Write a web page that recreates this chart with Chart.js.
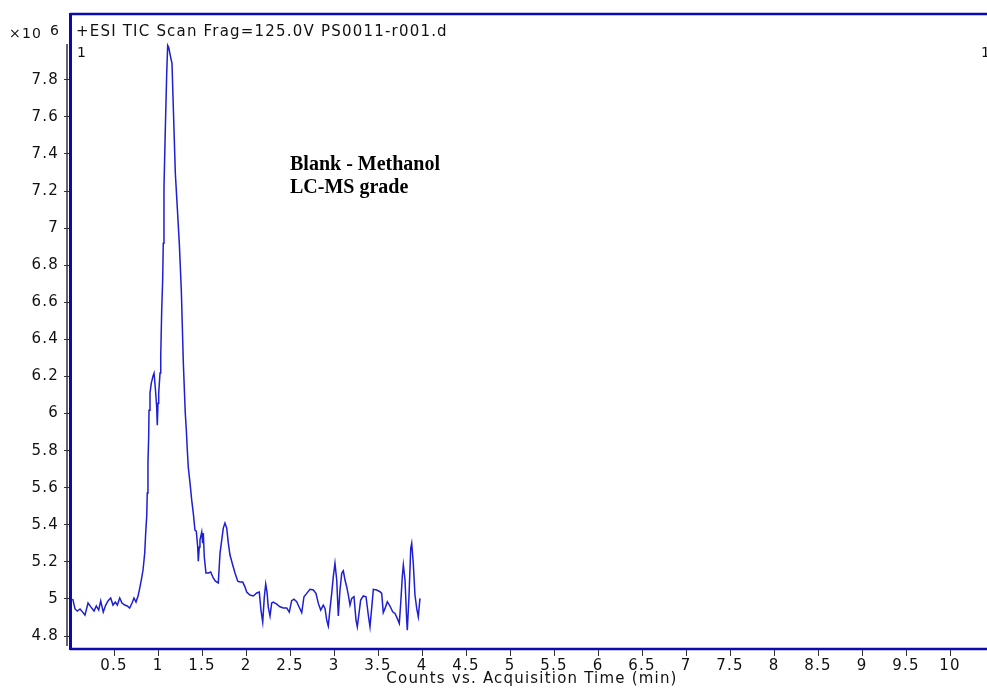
<!DOCTYPE html>
<html>
<head>
<meta charset="utf-8">
<title>TIC</title>
<script src="https://cdn.jsdelivr.net/npm/chart.js@4.4.1/dist/chart.umd.min.js"></script>
<style>
    html, body { margin: 0; padding: 0; background: #fff; overflow: hidden; }
    #wrap { position: relative; width: 1000px; height: 688px; }
</style>
</head>
<body>
<div id="wrap"><canvas id="tic" width="1000" height="688"></canvas></div>
<script>
// acquisition time (min) and TIC counts (x10^6)
const timeMin = [
    0.031, 0.057, 0.083, 0.114, 0.144, 0.170, 0.205, 0.239, 0.273, 0.299,
    0.326, 0.349, 0.378, 0.406, 0.432, 0.462, 0.489, 0.515, 0.538, 0.565,
    0.591, 0.622, 0.651, 0.678, 0.705, 0.727, 0.750, 0.773, 0.788, 0.810,
    0.830, 0.849, 0.860, 0.872, 0.878, 0.886, 0.894, 0.898, 0.909, 0.924,
    0.943, 0.955, 0.969, 0.985, 0.992, 1.000, 1.008, 1.023, 1.031, 1.042,
    1.053, 1.060, 1.068, 1.083, 1.099, 1.110, 1.122, 1.128, 1.144, 1.159,
    1.174, 1.197, 1.219, 1.242, 1.265, 1.288, 1.310, 1.322, 1.333, 1.344,
    1.364, 1.383, 1.401, 1.420, 1.435, 1.451, 1.458, 1.469, 1.477, 1.497,
    1.508, 1.515, 1.526, 1.545, 1.572, 1.599, 1.628, 1.653, 1.685, 1.705,
    1.724, 1.742, 1.761, 1.781, 1.799, 1.818, 1.849, 1.875, 1.906, 1.932,
    1.963, 1.989, 2.008, 2.045, 2.083, 2.122, 2.151, 2.170, 2.190, 2.208,
    2.224, 2.239, 2.253, 2.273, 2.292, 2.310, 2.349, 2.386, 2.424, 2.463,
    2.492, 2.519, 2.545, 2.576, 2.602, 2.633, 2.659, 2.690, 2.727, 2.765,
    2.795, 2.822, 2.849, 2.878, 2.898, 2.917, 2.935, 2.955, 2.974, 2.992,
    3.011, 3.031, 3.049, 3.068, 3.088, 3.106, 3.125, 3.144, 3.163, 3.182,
    3.201, 3.227, 3.250, 3.265, 3.284, 3.303, 3.333, 3.364, 3.390, 3.409,
    3.428, 3.447, 3.485, 3.523, 3.542, 3.560, 3.580, 3.606, 3.636, 3.667,
    3.693, 3.719, 3.742, 3.758, 3.776, 3.788, 3.807, 3.826, 3.833, 3.852,
    3.872, 3.883, 3.901, 3.920, 3.940, 3.958, 3.977,
];
const countsE6 = [
    5.000, 4.946, 4.935, 4.946, 4.929, 4.913, 4.978, 4.956, 4.935, 4.962,
    4.940, 4.989, 4.929, 4.967, 4.989, 5.005, 4.967, 4.983, 4.967, 5.005,
    4.978, 4.967, 4.962, 4.951, 4.978, 5.005, 4.983, 5.016, 5.048, 5.102,
    5.156, 5.247, 5.355, 5.447, 5.571, 5.733, 5.873, 6.018, 6.110, 6.164,
    6.202, 6.218, 6.142, 6.034, 5.937, 6.056, 6.110, 6.218, 6.309, 6.557,
    6.719, 6.919, 7.220, 7.528, 7.835, 7.986, 7.975, 7.959, 7.921, 7.889,
    7.652, 7.296, 7.113, 6.919, 6.665, 6.272, 6.002, 5.910, 5.803, 5.711,
    5.625, 5.533, 5.463, 5.371, 5.366, 5.280, 5.204, 5.280, 5.317, 5.361,
    5.301, 5.355, 5.226, 5.140, 5.140, 5.145, 5.113, 5.096, 5.086, 5.247,
    5.317, 5.382, 5.409, 5.382, 5.301, 5.237, 5.183, 5.140, 5.096, 5.091,
    5.091, 5.064, 5.037, 5.021, 5.016, 5.032, 5.037, 4.940, 4.875, 5.010,
    5.080, 5.037, 4.956, 4.908, 4.978, 4.983, 4.972, 4.958, 4.951, 4.951,
    4.929, 4.991, 4.999, 4.985, 4.958, 4.926, 5.012, 5.030, 5.052, 5.048,
    5.030, 4.976, 4.940, 4.967, 4.949, 4.886, 4.854, 4.949, 5.030, 5.120,
    5.192, 5.102, 4.908, 5.048, 5.138, 5.152, 5.102, 5.066, 5.021, 4.967,
    5.003, 5.012, 4.886, 4.850, 4.922, 4.994, 5.016, 5.012, 4.913, 4.850,
    4.949, 5.052, 5.048, 5.039, 5.030, 4.926, 4.949, 4.985, 4.962, 4.931,
    4.922, 4.895, 4.868, 4.976, 5.120, 5.183, 5.102, 4.886, 4.832, 5.012,
    5.273, 5.300, 5.192, 5.021, 4.949, 4.904, 5.003,
];

const xTicks = [0.5, 1, 1.5, 2, 2.5, 3, 3.5, 4, 4.5, 5, 5.5, 6, 6.5, 7, 7.5, 8, 8.5, 9, 9.5, 10];
const yTicks = [4.8, 5, 5.2, 5.4, 5.6, 5.8, 6, 6.2, 6.4, 6.6, 6.8, 7, 7.2, 7.4, 7.6, 7.8];

const traceTitle = '+ESI TIC Scan Frag=125.0V PS0011-r001.d';
const sampleNote = ['Blank - Methanol', 'LC-MS grade'];
const xAxisTitle = 'Counts vs. Acquisition Time (min)';

const INK = '#111';
const FRAME = '#0a0ab0';
const TRACE = '#1e1ed2';
const SANS = '"DejaVu Sans", sans-serif';

// wide, spaced instrument-software lettering
const spacing = {
    id: 'spacing',
    beforeDraw(chart) {
        chart.ctx.letterSpacing = '1.2px';
    },
};

// blue plot box, black y axis line and the header texts
const decor = {
    id: 'decor',
    afterDraw(chart) {
        const { ctx, chartArea: a } = chart;
        ctx.save();

        ctx.strokeStyle = '#333';
        ctx.lineWidth = 1.5;
        ctx.beginPath();
        ctx.moveTo(67, 44);
        ctx.lineTo(67, 646);
        ctx.stroke();

        ctx.strokeStyle = FRAME;
        ctx.lineWidth = 2.4;
        ctx.beginPath();
        ctx.moveTo(a.left, a.top);
        ctx.lineTo(chart.width, a.top);
        ctx.moveTo(a.left, a.bottom);
        ctx.lineTo(chart.width, a.bottom);
        ctx.stroke();
        ctx.lineWidth = 3;
        ctx.beginPath();
        ctx.moveTo(a.left + 0.5, a.top - 1);
        ctx.lineTo(a.left + 0.5, a.bottom + 1);
        ctx.stroke();

        ctx.fillStyle = INK;
        ctx.textBaseline = 'alphabetic';
        ctx.textAlign = 'left';
        ctx.letterSpacing = '1.2px';
        ctx.font = '15px ' + SANS;
        ctx.fillText(traceTitle, 76, 36);
        ctx.font = '14px ' + SANS;
        ctx.fillText('\u00d710', 9, 38);
        ctx.fillText('6', 50, 35);
        ctx.fillText('1', 77, 57);
        ctx.fillText('1', 981, 57);

        ctx.letterSpacing = '0px';
        ctx.fillStyle = '#000';
        ctx.font = 'bold 20px "Liberation Serif", serif';
        ctx.fillText(sampleNote[0], 290, 170);
        ctx.fillText(sampleNote[1], 290, 193);
        ctx.restore();
    },
};

const fmt = (v) => String(Math.round(v * 10) / 10);

new Chart(document.getElementById('tic'), {
    type: 'line',
    data: {
        datasets: [
            {
                data: timeMin.map((t, i) => ({ x: t, y: countsE6[i] })),
                borderColor: TRACE,
                borderWidth: 1.5,
                pointRadius: 0,
                tension: 0,
                fill: false,
            },
        ],
    },
    options: {
        responsive: false,
        animation: false,
        devicePixelRatio: 1,
        layout: { padding: { top: 14, right: 6, left: 0, bottom: 0 } },
        plugins: { legend: { display: false }, tooltip: { enabled: false } },
        scales: {
            x: {
                type: 'linear',
                min: 0,
                max: 10.5,
                afterBuildTicks: (s) => { s.ticks = xTicks.map((v) => ({ value: v })); },
                afterFit: (s) => { s.height = 39; },
                border: { display: false },
                grid: { drawOnChartArea: false, drawTicks: true, tickLength: 7, color: '#333' },
                ticks: {
                    autoSkip: false,
                    maxRotation: 0,
                    padding: 1,
                    color: INK,
                    font: { family: SANS, size: 15 },
                    callback: fmt,
                },
                title: {
                    display: true,
                    text: xAxisTitle,
                    color: INK,
                    padding: { top: 0, bottom: 0 },
                    font: { family: SANS, size: 15 },
                },
            },
            y: {
                min: 4.73,
                max: 8.155,
                afterBuildTicks: (s) => { s.ticks = yTicks.map((v) => ({ value: v })); },
                afterFit: (s) => { s.width = 70; },
                border: { display: false },
                grid: { drawOnChartArea: false, drawTicks: true, tickLength: 6, color: '#333' },
                ticks: {
                    autoSkip: false,
                    padding: 5,
                    color: INK,
                    font: { family: SANS, size: 15 },
                    callback: fmt,
                },
            },
        },
    },
    plugins: [spacing, decor],
});
</script>
</body>
</html>
